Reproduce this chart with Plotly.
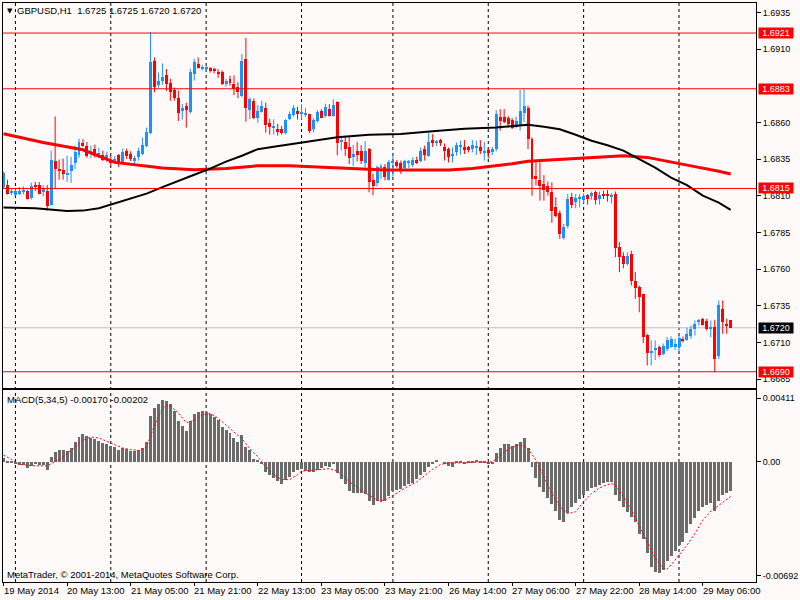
import plotly.graph_objects as go

# ---------------- data ----------------
opens = [1.68158,1.68174,1.68124,1.68106,1.68110,1.68132,1.68130,1.68083,1.68174,1.68174,
 1.68124,1.68135,1.68038,1.68340,1.68283,1.68278,1.68246,1.68267,1.68321,1.68378,
 1.68460,1.68442,1.68395,1.68419,1.68381,1.68378,1.68344,1.68340,1.68340,1.68378,
 1.68324,1.68408,1.68388,1.68340,1.68367,1.68388,1.68437,1.68528,1.69021,1.68855,
 1.68884,1.68923,1.68869,1.68821,1.68764,1.68681,1.68715,1.68673,1.68930,1.68998,
 1.68970,1.68966,1.68970,1.68968,1.68946,1.68946,1.68866,1.68896,1.68866,1.68841,
 1.68782,1.69036,1.68687,1.68748,1.68631,1.68669,1.68698,1.68600,1.68565,1.68559,
 1.68554,1.68525,1.68627,1.68653,1.68678,1.68660,1.68657,1.68657,1.68555,1.68607,
 1.68680,1.68641,1.68691,1.68646,1.68737,1.68467,1.68464,1.68430,1.68366,1.68403,
 1.68403,1.68321,1.68419,1.68208,1.68185,1.68290,1.68294,1.68208,1.68321,1.68328,
 1.68321,1.68287,1.68325,1.68313,1.68344,1.68335,1.68419,1.68374,1.68480,1.68457,
 1.68480,1.68430,1.68419,1.68374,1.68396,1.68435,1.68430,1.68430,1.68416,1.68430,
 1.68430,1.68398,1.68410,1.68404,1.68419,1.68639,1.68639,1.68630,1.68617,1.68570,
 1.68578,1.68668,1.68696,1.68487,1.68232,1.68210,1.68181,1.68170,1.68129,1.68022,
 1.67983,1.67810,1.67892,1.68090,1.68056,1.68079,1.68074,1.68106,1.68101,1.68129,
 1.68079,1.68112,1.68112,1.68096,1.68112,1.67749,1.67692,1.67636,1.67704,1.67518,
 1.67477,1.67427,1.67154,1.67034,1.67051,1.67072,1.67023,1.67058,1.67072,1.67068,
 1.67072,1.67125,1.67118,1.67147,1.67193,1.67239,1.67261,1.67245,1.67198,1.67204,
 1.67006,1.67329,1.67227,1.67250]
highs = [1.68265,1.68210,1.68153,1.68153,1.68160,1.68165,1.68140,1.68190,1.68194,1.68194,
 1.68173,1.68174,1.68408,1.68641,1.68347,1.68354,1.68374,1.68367,1.68442,1.68490,
 1.68486,1.68467,1.68442,1.68449,1.68428,1.68408,1.68401,1.68374,1.68370,1.68385,
 1.68422,1.68422,1.68404,1.68374,1.68428,1.68497,1.68565,1.69217,1.69044,1.68941,
 1.69003,1.68965,1.68898,1.68838,1.68818,1.68726,1.68735,1.68967,1.69035,1.69044,
 1.68993,1.68984,1.68978,1.68975,1.68964,1.68955,1.68898,1.68919,1.68921,1.68875,
 1.69067,1.69177,1.68771,1.68764,1.68718,1.68749,1.68735,1.68626,1.68622,1.68592,
 1.68577,1.68623,1.68675,1.68718,1.68708,1.68725,1.68698,1.68660,1.68629,1.68684,
 1.68691,1.68728,1.68725,1.68759,1.68745,1.68510,1.68510,1.68510,1.68446,1.68466,
 1.68446,1.68473,1.68426,1.68249,1.68306,1.68317,1.68317,1.68344,1.68374,1.68344,
 1.68340,1.68346,1.68344,1.68362,1.68367,1.68430,1.68442,1.68531,1.68520,1.68480,
 1.68488,1.68457,1.68430,1.68430,1.68464,1.68477,1.68480,1.68440,1.68480,1.68475,
 1.68480,1.68466,1.68430,1.68435,1.68684,1.68691,1.68691,1.68644,1.68630,1.68640,
 1.68823,1.68828,1.68714,1.68498,1.68328,1.68328,1.68242,1.68197,1.68192,1.68090,
 1.67999,1.67908,1.68113,1.68120,1.68112,1.68112,1.68117,1.68112,1.68129,1.68135,
 1.68129,1.68135,1.68140,1.68117,1.68129,1.67783,1.67715,1.67715,1.67726,1.67579,
 1.67488,1.67432,1.67159,1.67114,1.67114,1.67079,1.67093,1.67136,1.67141,1.67125,
 1.67147,1.67141,1.67200,1.67216,1.67250,1.67261,1.67268,1.67261,1.67250,1.67254,
 1.67386,1.67386,1.67261,1.67250]
lows = [1.68150,1.68108,1.68106,1.68100,1.68105,1.68110,1.68074,1.68075,1.68133,1.68110,
 1.68096,1.67999,1.68033,1.68147,1.68210,1.68210,1.68195,1.68188,1.68283,1.68358,
 1.68435,1.68360,1.68358,1.68360,1.68360,1.68337,1.68330,1.68310,1.68325,1.68295,
 1.68317,1.68351,1.68337,1.68320,1.68340,1.68378,1.68431,1.68521,1.68806,1.68838,
 1.68857,1.68815,1.68749,1.68749,1.68610,1.68620,1.68565,1.68660,1.68886,1.68968,
 1.68955,1.68950,1.68940,1.68935,1.68905,1.68855,1.68845,1.68850,1.68787,1.68766,
 1.68773,1.68605,1.68623,1.68623,1.68597,1.68668,1.68531,1.68517,1.68517,1.68511,
 1.68518,1.68518,1.68616,1.68640,1.68620,1.68620,1.68637,1.68527,1.68532,1.68600,
 1.68630,1.68634,1.68640,1.68640,1.68376,1.68409,1.68372,1.68317,1.68303,1.68334,
 1.68317,1.68293,1.68124,1.68104,1.68163,1.68217,1.68205,1.68205,1.68231,1.68290,
 1.68249,1.68280,1.68290,1.68296,1.68317,1.68328,1.68340,1.68367,1.68434,1.68440,
 1.68440,1.68340,1.68328,1.68328,1.68374,1.68381,1.68385,1.68396,1.68396,1.68378,
 1.68385,1.68340,1.68355,1.68378,1.68403,1.68544,1.68594,1.68564,1.68555,1.68560,
 1.68544,1.68605,1.68419,1.68101,1.68170,1.68067,1.68067,1.68101,1.67915,1.67953,
 1.67806,1.67801,1.67878,1.68015,1.68015,1.68022,1.68049,1.68040,1.68074,1.68040,
 1.68040,1.68079,1.68060,1.68049,1.67681,1.67579,1.67606,1.67624,1.67488,1.67398,
 1.67306,1.67095,1.66943,1.66943,1.66980,1.66999,1.67011,1.67041,1.67064,1.67047,
 1.67029,1.67100,1.67111,1.67125,1.67147,1.67216,1.67216,1.67181,1.67136,1.66898,
 1.66986,1.67159,1.67159,1.67200]
closes = [1.68253,1.68110,1.68131,1.68130,1.68130,1.68140,1.68076,1.68169,1.68160,1.68113,
 1.68147,1.68033,1.68344,1.68283,1.68267,1.68249,1.68253,1.68310,1.68401,1.68464,
 1.68442,1.68374,1.68401,1.68374,1.68391,1.68344,1.68378,1.68324,1.68354,1.68324,
 1.68401,1.68374,1.68354,1.68358,1.68408,1.68449,1.68532,1.69014,1.68839,1.68884,
 1.68913,1.68862,1.68809,1.68764,1.68668,1.68702,1.68687,1.68946,1.69013,1.68975,
 1.68978,1.68972,1.68950,1.68950,1.68930,1.68862,1.68884,1.68869,1.68828,1.68807,
 1.69021,1.68696,1.68760,1.68634,1.68680,1.68715,1.68585,1.68571,1.68573,1.68532,
 1.68525,1.68616,1.68657,1.68698,1.68655,1.68666,1.68664,1.68544,1.68616,1.68675,
 1.68634,1.68703,1.68646,1.68721,1.68457,1.68474,1.68419,1.68358,1.68388,1.68381,
 1.68337,1.68403,1.68192,1.68170,1.68299,1.68299,1.68226,1.68328,1.68340,1.68306,
 1.68276,1.68340,1.68331,1.68344,1.68323,1.68408,1.68381,1.68464,1.68457,1.68475,
 1.68457,1.68403,1.68362,1.68385,1.68448,1.68444,1.68413,1.68415,1.68444,1.68440,
 1.68403,1.68404,1.68398,1.68416,1.68657,1.68612,1.68605,1.68590,1.68562,1.68610,
 1.68680,1.68714,1.68487,1.68215,1.68215,1.68170,1.68142,1.68129,1.67999,1.67965,
 1.67840,1.67885,1.68079,1.68038,1.68083,1.68090,1.68101,1.68079,1.68120,1.68074,
 1.68106,1.68101,1.68099,1.68103,1.67742,1.67681,1.67636,1.67692,1.67516,1.67473,
 1.67413,1.67136,1.67027,1.67041,1.67058,1.67011,1.67079,1.67114,1.67125,1.67091,
 1.67131,1.67109,1.67159,1.67193,1.67227,1.67254,1.67222,1.67193,1.67204,1.66989,
 1.67352,1.67238,1.67216,1.67200]

red_ma_bars = [0,10,20,28,40,48,56,64,72,80,88,96,104,112,118,124,128,132,140,148,156,162,168,174,180,183]
red_ma_vals = [1.68523,1.68464,1.68414,1.68328,1.68290,1.68278,1.68287,1.68305,1.68305,1.68294,
 1.68283,1.68276,1.68276,1.68276,1.68287,1.68305,1.68319,1.68336,1.68348,1.68362,
 1.68374,1.68362,1.68328,1.68299,1.68267,1.68249]

black_ma_bars = [0,8,16,20,24,28,32,36,40,44,48,52,56,60,64,68,75,84,92,100,108,116,124,128,
 132,136,140,144,148,152,156,160,164,168,172,176,180,183]
black_ma_vals = [1.68021,1.68016,1.67996,1.67999,1.68015,1.68047,1.68084,1.68115,1.68159,1.68203,
 1.68244,1.68285,1.68333,1.68373,1.68418,1.68435,1.68464,1.68499,1.68516,1.68521,
 1.68540,1.68557,1.68566,1.68574,1.68584,1.68571,1.68554,1.68516,1.68476,1.68445,
 1.68408,1.68350,1.68292,1.68224,1.68173,1.68101,1.68054,1.68004]

macd_hist = [0.00019,-0.00004,-0.0001,-0.00015,-0.00019,-0.00019,-0.00039,-0.00023,-0.00015,-0.00019,
 -0.00019,-0.00048,0.00029,0.00058,0.00066,0.00068,0.00062,0.00081,0.00112,0.00145,
 0.00159,0.00151,0.00139,0.00132,0.0012,0.00106,0.00101,0.00093,0.00087,0.00068,
 0.00077,0.00074,0.00064,0.00062,0.00068,0.00081,0.00112,0.00267,0.0031,0.00333,
 0.00358,0.00352,0.00333,0.00294,0.00236,0.00209,0.00178,0.00236,0.00275,0.0029,
 0.00294,0.0029,0.00275,0.00261,0.00242,0.00203,0.00184,0.00164,0.00139,0.00116,
 0.00155,0.00087,0.00068,0.00015,0.00004,-0.00015,-0.00058,-0.00077,-0.00097,-0.00112,
 -0.0013,-0.00106,-0.00087,-0.00062,-0.00048,-0.00043,-0.00054,-0.00062,-0.00062,-0.00048,
 -0.00035,-0.00023,-0.00029,-0.00015,-0.00068,-0.001,-0.00132,-0.0017,-0.00184,-0.00184,
 -0.00184,-0.0019,-0.00228,-0.00255,-0.00232,-0.00236,-0.00228,-0.00203,-0.00174,-0.00164,
 -0.00159,-0.00141,-0.00132,-0.00126,-0.00103,-0.00077,-0.00062,-0.00029,-0.00015,0.00004,
 0.0,-0.00015,-0.00023,-0.00029,-0.0001,-0.0001,-0.00014,-0.0001,-0.00004,0.0001,
 -0.00004,-0.0001,-0.00015,-0.00015,0.00052,0.00081,0.00101,0.00101,0.00093,0.00101,
 0.00112,0.00135,0.00081,-0.00029,-0.00093,-0.00145,-0.00178,-0.00209,-0.00248,-0.00286,
 -0.00339,-0.00352,-0.003,-0.00267,-0.00242,-0.00217,-0.00194,-0.0017,-0.00155,-0.00145,
 -0.00135,-0.00126,-0.0012,-0.00116,-0.00197,-0.00232,-0.00267,-0.00294,-0.00325,-0.00352,
 -0.00422,-0.00449,-0.00532,-0.00615,-0.00642,-0.00648,-0.00629,-0.00577,-0.00551,-0.00522,
 -0.00488,-0.00468,-0.00416,-0.00364,-0.00329,-0.0029,-0.00267,-0.00252,-0.00242,-0.0029,
 -0.00228,-0.00194,-0.00184,-0.0017]

signal_bars = [0,2,4,8,11,12,14,16,18,20,22,24,26,28,30,32,34,36,38,40,41,42,44,46,48,50,52,54,
 56,58,60,62,64,66,68,70,72,74,75,78,82,84,86,88,90,92,94,96,98,100,102,104,106,108,110,112,
 116,120,122,124,126,128,130,132,134,136,138,140,142,144,146,148,150,152,153,154,156,158,160,
 162,164,166,167,168,170,172,174,176,178,180,182,183]
signal_vals = [0.00039,0.00015,-0.00015,-0.00023,-0.00023,-0.0001,0.00015,0.00048,0.00087,0.00126,
 0.00145,0.00139,0.0012,0.00101,0.00081,0.00072,0.00066,0.00087,0.00213,0.0031,0.00329,0.00325,
 0.00286,0.00228,0.00242,0.00275,0.00281,0.00255,0.00217,0.00174,0.00135,0.00077,0.00029,
 -0.00029,-0.00074,-0.00103,-0.00103,-0.00074,-0.00054,-0.00048,-0.00039,-0.00054,-0.00093,
 -0.00132,-0.00164,-0.00194,-0.00223,-0.00223,-0.00194,-0.0017,-0.00139,-0.00116,-0.00081,
 -0.00043,-0.00015,-0.00006,-0.00006,0.0,-0.00006,0.00015,0.00058,0.00087,0.00101,0.00077,
 0.0001,-0.00087,-0.00184,-0.00261,-0.003,-0.0029,-0.00232,-0.00184,-0.00151,-0.00132,
 -0.00126,-0.00135,-0.00203,-0.00281,-0.00368,-0.00464,-0.00561,-0.00619,-0.00623,-0.006,
 -0.00542,-0.00484,-0.00416,-0.00339,-0.00286,-0.00252,-0.00217,-0.00202]

day_sep_bars = [3, 27, 51, 75, 98, 122, 146, 170]
time_tick_bars = [0, 16, 32, 48, 64, 80, 96, 112, 128, 144, 160, 176]
time_tick_labels = ["19 May 2014", "20 May 13:00", "21 May 05:00", "21 May 21:00", "22 May 13:00",
                    "23 May 05:00", "23 May 21:00", "26 May 14:00", "27 May 06:00", "27 May 22:00",
                    "28 May 14:00", "29 May 06:00"]
price_ticks = [1.6685, 1.6710, 1.6735, 1.6760, 1.6785, 1.6810, 1.6835, 1.6860, 1.6910, 1.6935]
level_prices = [1.6921, 1.6883, 1.6815, 1.6690]
bid_price = 1.6720
macd_tick_vals = [0.003715, 0.0, -0.006618]
macd_tick_text = ["0.00411", "0.00", "-0.00692"]

# ---------------- figure ----------------
BG = "#FFFAFA"
FONT = "Liberation Sans"
UP = "#1E90FF"
DOWN = "#FF0000"
n = len(opens)
bars = list(range(n))
X_RANGE = [-0.125, 189.375]
P_DOM = [0.3345, 1.0]
M_DOM = [0.0, 0.331]
MIN_BODY = 0.00007  # ~1 px so doji bodies remain visible

fig = go.Figure()

# wicks (one path per colour)
for want_up, col in ((True, UP), (False, DOWN)):
    wx, wy = [], []
    for i in bars:
        if (closes[i] >= opens[i]) == want_up:
            wx += [i, i, None]
            wy += [lows[i], highs[i], None]
    fig.add_trace(go.Scatter(x=wx, y=wy, mode="lines", line=dict(color=col, width=1),
                             xaxis="x", yaxis="y", hoverinfo="skip", showlegend=False))

# bodies
body_base = [min(o, c) for o, c in zip(opens, closes)]
body_len = [max(abs(c - o), MIN_BODY) for o, c in zip(opens, closes)]
body_col = [UP if c >= o else DOWN for o, c in zip(opens, closes)]
fig.add_trace(go.Bar(x=bars, y=body_len, base=body_base, width=0.75,
                     marker=dict(color=body_col, line=dict(width=0)),
                     xaxis="x", yaxis="y", hoverinfo="skip", showlegend=False))

fig.add_trace(go.Scatter(x=red_ma_bars, y=red_ma_vals, mode="lines",
                         line=dict(color="#FF0000", width=3), xaxis="x", yaxis="y",
                         hoverinfo="skip", showlegend=False))
fig.add_trace(go.Scatter(x=black_ma_bars, y=black_ma_vals, mode="lines",
                         line=dict(color="#000000", width=2), xaxis="x", yaxis="y",
                         hoverinfo="skip", showlegend=False))

fig.add_trace(go.Bar(x=bars, y=macd_hist, marker=dict(color="#6B6B6B", line=dict(width=0)),
                     width=0.75, xaxis="x2", yaxis="y2", hoverinfo="skip", showlegend=False))
fig.add_trace(go.Scatter(x=signal_bars, y=signal_vals, mode="lines",
                         line=dict(color="#FF0000", width=1, dash="2px,2px"),
                         xaxis="x2", yaxis="y2", hoverinfo="skip", showlegend=False))

shapes = []
for b in day_sep_bars:
    shapes.append(dict(type="line", xref="x", yref="paper", x0=b, x1=b, y0=0, y1=1,
                       line=dict(color="#000000", width=1, dash="3px,3px"), layer="below"))
shapes.append(dict(type="line", xref="paper", yref="y", x0=0, x1=1, y0=bid_price, y1=bid_price,
                   line=dict(color="#C0C0C0", width=1), layer="below"))
for p in level_prices:
    shapes.append(dict(type="line", xref="paper", yref="y", x0=0, x1=1, y0=p, y1=p,
                       line=dict(color="#FF0000", width=1), layer="above"))

annotations = []
for b, t in zip(time_tick_bars, time_tick_labels):
    annotations.append(dict(x=b, y=0, xref="x2", yref="paper", text=t, showarrow=False,
                            xanchor="left", yanchor="top", xshift=-2, yshift=-1,
                            font=dict(family=FONT, size=9.5, color="#000000")))
for p in level_prices:
    annotations.append(dict(x=1, y=p, xref="paper", yref="y", text=f"{p:.4f}", showarrow=False,
                            xanchor="left", yanchor="middle", xshift=2, bgcolor="#FF0000",
                            borderpad=0, width=34, height=10,
                            font=dict(family=FONT, size=9, color="#FFFFFF")))
annotations.append(dict(x=1, y=bid_price, xref="paper", yref="y", text=f"{bid_price:.4f}",
                        showarrow=False, xanchor="left", yanchor="middle", xshift=2,
                        bgcolor="#000000", borderpad=0, width=34, height=10,
                        font=dict(family=FONT, size=9, color="#FFFFFF")))
annotations.append(dict(x=0, y=1, xref="paper", yref="paper", text="▼", showarrow=False,
                        xanchor="left", yanchor="top", xshift=2, yshift=-2,
                        font=dict(family="DejaVu Sans", size=7, color="#000000")))
annotations.append(dict(x=0, y=1, xref="paper", yref="paper",
                        text="GBPUSD,H1&nbsp;&nbsp;1.6725 1.6725 1.6720 1.6720", showarrow=False,
                        xanchor="left", yanchor="top", xshift=13, yshift=-1, borderpad=0,
                        font=dict(family=FONT, size=9.5, color="#000000")))
annotations.append(dict(x=0, y=M_DOM[1], xref="paper", yref="paper",
                        text="MACD(5,34,5) -0.00170 -0.00202", showarrow=False,
                        xanchor="left", yanchor="top", xshift=3, yshift=-3, borderpad=0,
                        font=dict(family=FONT, size=9.5, color="#000000")))
annotations.append(dict(x=0, y=0, xref="paper", yref="paper",
                        text="MetaTrader, © 2001-2014, MetaQuotes Software Corp.", showarrow=False,
                        xanchor="left", yanchor="bottom", xshift=3, yshift=1, borderpad=0,
                        font=dict(family=FONT, size=9.5, color="#000000")))

axis_common = dict(showline=True, mirror=True, linecolor="#000000", linewidth=1,
                   showgrid=False, zeroline=False)

fig.update_layout(
    width=800, height=600,
    margin=dict(l=2, r=40, t=2, b=18),
    paper_bgcolor=BG, plot_bgcolor=BG,
    bargap=0, showlegend=False,
    font=dict(family=FONT, size=9, color="#000000"),
    xaxis=dict(domain=[0, 1], anchor="y", range=X_RANGE, showticklabels=False, ticks="",
               **axis_common),
    yaxis=dict(domain=P_DOM, anchor="x", side="right", range=[1.66787, 1.69415],
               tickmode="array", tickvals=price_ticks, ticktext=[f"{v:.4f}" for v in price_ticks],
               ticks="outside", ticklen=4, tickcolor="#000000",
               tickfont=dict(family=FONT, size=9, color="#000000"), **axis_common),
    xaxis2=dict(domain=[0, 1], anchor="y2", range=X_RANGE, matches="x",
                tickmode="array", tickvals=time_tick_bars, showticklabels=False,
                ticks="outside", ticklen=3, tickcolor="#000000", **axis_common),
    yaxis2=dict(domain=M_DOM, anchor="x2", side="right", range=[-0.006984, 0.004162],
                tickmode="array", tickvals=macd_tick_vals, ticktext=macd_tick_text,
                ticks="outside", ticklen=4, tickcolor="#000000",
                tickfont=dict(family=FONT, size=9, color="#000000"), **axis_common),
    shapes=shapes, annotations=annotations,
)

fig.write_html("out.html", config={"displayModeBar": False},
               post_script="document.body.style.margin='0px';document.body.style.overflow='hidden';")
